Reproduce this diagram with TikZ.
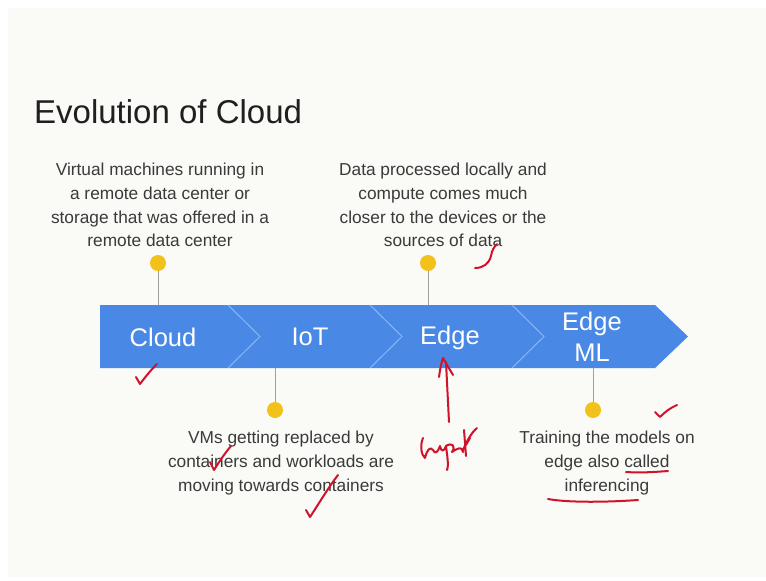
\documentclass[tikz,border=0pt]{standalone}
\usepackage{fontspec}
\setmainfont{Liberation Sans}
\begin{document}
\begin{tikzpicture}[x=1pt,y=-1pt,
  bodytext/.style={align=center, inner sep=0pt, text=txtgray, font=\fontsize{17.3}{23.8}\selectfont},
  bandlabel/.style={align=center, inner sep=0pt, text=white, font=\fontsize{25.5}{31}\selectfont},
  yellowdot/.style={circle, fill=dotyellow, minimum size=16pt, inner sep=0pt},
  stem/.style={draw=stemgray, line width=1pt},
  sep/.style={draw=seplight, line width=1pt},
  ink/.style={draw=inkred, line width=2pt, line cap=round, line join=round}]
\definecolor{slidebg}{HTML}{FAFAF6}
\definecolor{bandblue}{HTML}{4A88E6}
\definecolor{seplight}{HTML}{8EB5F0}
\definecolor{dotyellow}{HTML}{F2C21B}
\definecolor{stemgray}{HTML}{A0A0A0}
\definecolor{txtgray}{HTML}{3A3A3A}
\definecolor{inkred}{HTML}{D0132A}
\useasboundingbox (0,0) rectangle (766,581);
\fill[white] (0,0) rectangle (766,581);
\fill[slidebg] (8,8) rectangle (766,577);
% title
\node[anchor=west, inner sep=0pt, text=black!88, font=\fontsize{33}{40}\selectfont] (title) at (34,112) {Evolution of Cloud};
% band
\fill[bandblue] (100,305) -- (655,305) -- (688,336.5) -- (655,368) -- (100,368) -- cycle;
\draw[sep] (228,305) -- (260,336.5) -- (228,368);
\draw[sep] (370,305) -- (402,336.5) -- (370,368);
\draw[sep] (512,305) -- (544,336.5) -- (512,368);
\node[bandlabel] (cloud) at (163,337) {Cloud};
\node[bandlabel] (iot) at (310,337) {IoT};
\node[bandlabel] (edge) at (450,338) {Edge};
\node[bandlabel] (edgeml) at (592,337) {Edge\\ML};
% band edge coordinates
\coordinate (b1) at (158,305);
\coordinate (b2) at (428,305);
\coordinate (b3) at (275,368);
\coordinate (b4) at (593,368);
% dots
\node[yellowdot] (d1) at (158,263) {};
\node[yellowdot] (d2) at (428,263) {};
\node[yellowdot] (d3) at (275,410) {};
\node[yellowdot] (d4) at (593,410) {};
\draw[stem] (d1) -- (b1);
\draw[stem] (d2) -- (b2);
\draw[stem] (d3) -- (b3);
\draw[stem] (d4) -- (b4);
% texts
\node[bodytext] (t1) at (160,205) {Virtual machines running in\\a remote data center or\\storage that was offered in a\\remote data center};
\node[bodytext] (t2) at (443,205) {Data processed locally and\\compute comes much\\closer to the devices or the\\sources of data};
\node[bodytext] (t3) at (281,463) {VMs getting replaced by\\containers and workloads are\\moving towards containers};
\node[bodytext] (t4) at (607,463) {Training the models on\\edge also called\\inferencing};
% handwritten ink
\draw[ink] (136,377) -- (140,384) .. controls (146,376) and (151,370) .. (157,364);
\draw[ink] (475,268) .. controls (483,268) and (489,264) .. (491,256) .. controls (492,250) and (494,247) .. (497,244);
\draw[ink] (449,422) -- (446,362);
\draw[ink] (439,377) .. controls (440,370) and (441,364) .. (443,358) -- (453,375);
\draw[ink] (423,438) .. controls (420,445) and (421,455) .. (425,458) .. controls (427,450) and (430,446) .. (433,450) .. controls (435,455) and (438,452) .. (440,446) .. controls (441,452) and (444,452) .. (446,446) .. controls (447,455) and (449,465) .. (447,470);
\draw[ink] (446,446) .. controls (452,442) and (456,446) .. (452,452) .. controls (458,448) and (462,446) .. (463,452) .. controls (464,446) and (467,440) .. (470,438) -- (466,445) .. controls (466,442) and (472,432) .. (477,428);
\draw[ink] (464,430) -- (466,456);
\draw[ink] (210,462) -- (214,470) .. controls (219,462) and (225,453) .. (231,446);
\draw[ink] (306,510) -- (310,517) .. controls (318,505) and (328,488) .. (338,475);
\draw[ink] (655,412) -- (660,417) .. controls (665,412) and (670,408) .. (677,405);
\draw[ink] (626,472) .. controls (640,473) and (655,472) .. (668,471);
\draw[ink] (548,499) .. controls (570,503) and (610,502) .. (638,500);
\end{tikzpicture}
\end{document}
